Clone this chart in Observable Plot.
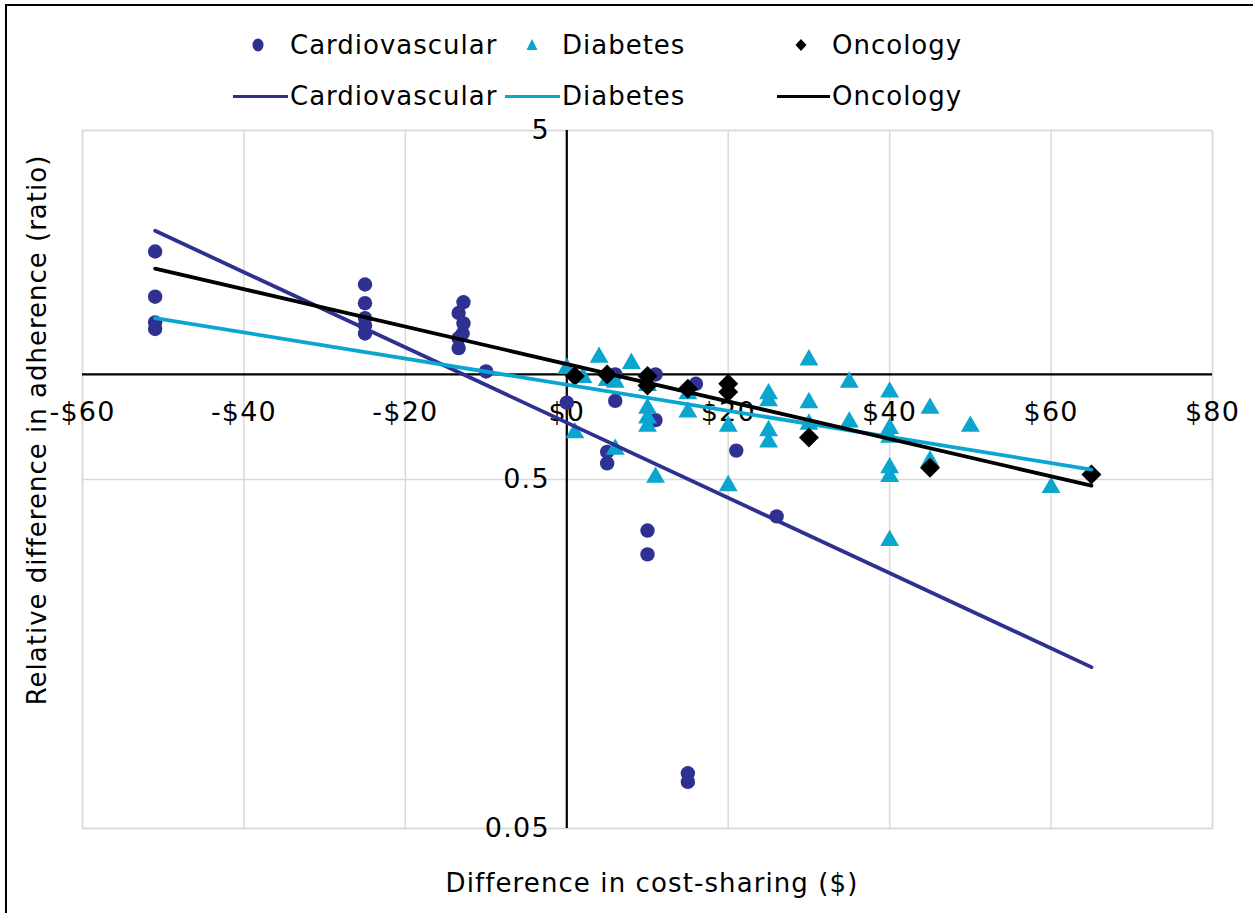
<!DOCTYPE html>
<html>
<head>
<meta charset="utf-8">
<script src="https://cdn.jsdelivr.net/npm/d3@7"></script>
<script src="https://cdn.jsdelivr.net/npm/@observablehq/plot@0.6"></script>
<style>
  html, body { margin: 0; padding: 0; background: #fff; }
  #wrap { position: relative; width: 1253px; height: 913px; overflow: hidden; font-family: "DejaVu Sans", Verdana, sans-serif; color: #000; }
  #frame { position: absolute; left: 5px; top: 4px; width: 1260px; height: 920px; border-left: 2px solid #000; border-top: 2px solid #000; box-sizing: border-box; pointer-events: none; }
  #chart { position: absolute; left: 0; top: 0; }
  #chart text { letter-spacing: 1.2px; }
  .leg { position: absolute; font-size: 26px; line-height: 30px; white-space: nowrap; letter-spacing: 1px; }
  .sym { position: absolute; }
  #ytitle { position: absolute; left: 37px; top: 430px; transform: translate(-50%, -50%) rotate(-90deg); font-size: 26px; white-space: nowrap; letter-spacing: 1px; }
  #xtitle { position: absolute; left: 652px; top: 883px; transform: translate(-50%, -50%); font-size: 26px; white-space: nowrap; letter-spacing: 1.1px; }
</style>
</head>
<body>
<div id="wrap">
  <div id="chart"></div>
  <div id="legend"></div>
  <div id="ytitle">Relative difference in adherence (ratio)</div>
  <div id="xtitle">Difference in cost-sharing ($)</div>
  <div id="frame"></div>
</div>
<script>
// ---- Data ----
const seriesNames = ["Cardiovascular", "Diabetes", "Oncology"];
const seriesColors = ["#2E3192", "#0AA6D0", "#000000"];

const cardioX = [-51, -51, -51, -51, -25, -25, -25, -25, -25, -12.8, -13.4, -12.8, -12.9, -13.4, -13.4, -10, 0, 5, 5, 6, 6, 10, 10, 11, 11, 15, 15, 16, 21, 26];
const cardioY = [2.25, 1.67, 1.41, 1.35, 1.81, 1.60, 1.45, 1.38, 1.31, 1.61, 1.50, 1.40, 1.31, 1.27, 1.19, 1.02, 0.83, 0.60, 0.556, 1.0, 0.84, 0.357, 0.305, 1.0, 0.74, 0.072, 0.068, 0.94, 0.605, 0.392];

const diabetesX = [0, 4, 8, 2, 5, 6, 10, 10, 10, 10, 1, 6, 11, 15, 15, 20, 20, 25, 25, 25, 25, 30, 30, 30, 35, 35, 40, 40, 40, 40, 40, 40, 45, 45, 50, 60];
const diabetesY = [1.04, 1.12, 1.075, 0.98, 0.96, 0.95, 0.93, 0.80, 0.75, 0.71, 0.68, 0.61, 0.507, 0.88, 0.78, 0.71, 0.48, 0.88, 0.84, 0.69, 0.64, 1.10, 0.83, 0.72, 0.95, 0.73, 0.89, 0.70, 0.66, 0.54, 0.51, 0.334, 0.80, 0.565, 0.71, 0.474];

const oncologyX = [1, 5, 10, 10, 15, 20, 20, 30, 45, 65];
const oncologyY = [0.99, 1.0, 0.99, 0.93, 0.91, 0.94, 0.89, 0.66, 0.54, 0.517];

// Trendline end points (as drawn in the reference)
const trendX = [-51, 65];
const cardioTrend = [2.58, 0.145];
const diabetesTrend = [1.45, 0.534];
const oncologyTrend = [2.01, 0.48];

const xTicks = [-60, -40, -20, 0, 20, 40, 60, 80];
const yTicks = [0.05, 0.5, 5];
const yTickLabels = ["0.05", "0.5", "5"];

// ---- Build tables ----
const pts = (xs, ys) => xs.map((x, i) => ({x, y: ys[i]}));
const cardio = pts(cardioX, cardioY);
const diabetes = pts(diabetesX, diabetesY);
const oncology = pts(oncologyX, oncologyY);
const cardioLine = pts(trendX, cardioTrend);
const diabetesLine = pts(trendX, diabetesTrend);
const oncologyLine = pts(trendX, oncologyTrend);
const xFmt = v => (v < 0 ? "-$" + Math.abs(v) : "$" + v);
const yTickData = yTicks.map((v, i) => ({v, label: yTickLabels[i]}));

const grid = "#d9d9d9";

const chart = Plot.plot({
  width: 1253,
  height: 913,
  marginLeft: 82,
  marginRight: 41,
  marginTop: 130,
  marginBottom: 85,
  style: {fontFamily: "DejaVu Sans, Verdana, sans-serif", background: "transparent"},
  x: {domain: [-60, 80], axis: null},
  y: {type: "log", domain: [0.05, 5], axis: null},
  marks: [
    Plot.gridX(xTicks, {stroke: grid, strokeOpacity: 1, strokeWidth: 1.5}),
    Plot.gridY(yTicks, {stroke: grid, strokeOpacity: 1, strokeWidth: 1.5}),
    Plot.frame({stroke: grid, strokeWidth: 1.5}),
    Plot.ruleY([1], {stroke: "#000", strokeWidth: 2.2}),
    Plot.ruleX([0], {stroke: "#000", strokeWidth: 2.2}),
    Plot.text(xTicks, {x: d => d, y: () => 1, dy: 38, text: xFmt, fontSize: 27, fill: "#000", textAnchor: "middle"}),
    Plot.text(yTickData, {x: () => 0, y: "v", dx: -17, text: "label", fontSize: 27, fill: "#000", textAnchor: "end"}),
    Plot.dot(cardio, {x: "x", y: "y", r: 7.2, symbol: "circle", fill: seriesColors[0], stroke: "none"}),
    Plot.dot(diabetes, {x: "x", y: "y", r: 7, symbol: "triangle", fill: seriesColors[1], stroke: "none"}),
    Plot.dot(oncology, {x: "x", y: "y", r: 9, symbol: "diamond2", fill: seriesColors[2], stroke: "none"}),
    Plot.line(cardioLine, {x: "x", y: "y", stroke: seriesColors[0], strokeWidth: 3.8}),
    Plot.line(diabetesLine, {x: "x", y: "y", stroke: seriesColors[1], strokeWidth: 3.8}),
    Plot.line(oncologyLine, {x: "x", y: "y", stroke: seriesColors[2], strokeWidth: 3.8})
  ]
});
document.getElementById("chart").appendChild(chart);

// ---- Legend (HTML) ----
const legend = document.getElementById("legend");
const markerSvg = {
  circle: c => `<svg width="16" height="16"><ellipse cx="8" cy="8" rx="5.5" ry="6.5" fill="${c}"/></svg>`,
  triangle: c => `<svg width="16" height="16"><path d="M8 2 L13.5 13 L2.5 13 Z" fill="${c}"/></svg>`,
  diamond: c => `<svg width="16" height="16"><path d="M8 2 L13.5 8 L8 14 L2.5 8 Z" fill="${c}"/></svg>`
};
const markerKinds = ["circle", "triangle", "diamond"];
const row1Sym = [258, 532, 801];
const row1Text = [290, 562, 832];
const row2Line = [[233, 288], [505, 560], [777, 830]];
const row2Text = [290, 562, 832];
seriesNames.forEach((name, i) => {
  const s = document.createElement("div");
  s.className = "sym";
  s.style.left = (row1Sym[i] - 8) + "px";
  s.style.top = (45 - 8) + "px";
  s.innerHTML = markerSvg[markerKinds[i]](seriesColors[i]);
  legend.appendChild(s);
  const t = document.createElement("div");
  t.className = "leg";
  t.style.left = row1Text[i] + "px";
  t.style.top = (45 - 15) + "px";
  t.textContent = name;
  legend.appendChild(t);

  const l = document.createElement("div");
  l.className = "sym";
  l.style.left = row2Line[i][0] + "px";
  l.style.top = (96 - 1.5) + "px";
  l.style.width = (row2Line[i][1] - row2Line[i][0]) + "px";
  l.style.height = "3px";
  l.style.background = seriesColors[i];
  legend.appendChild(l);
  const t2 = document.createElement("div");
  t2.className = "leg";
  t2.style.left = row2Text[i] + "px";
  t2.style.top = (96 - 15) + "px";
  t2.textContent = name;
  legend.appendChild(t2);
});
</script>
</body>
</html>
